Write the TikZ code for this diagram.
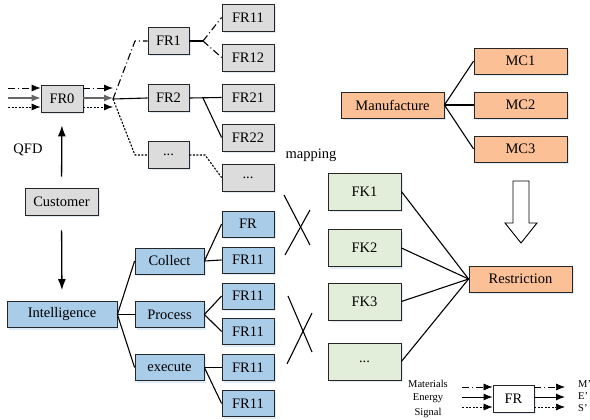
\documentclass[tikz,border=0pt]{standalone}
\usepackage{fontspec}
\setmainfont{Liberation Serif}
\usetikzlibrary{arrows.meta,shadows}
\definecolor{gfill}{HTML}{DCDCDC}
\definecolor{bfill}{HTML}{A9CCE8}
\definecolor{ofill}{HTML}{FBC096}
\definecolor{kfill}{HTML}{E3EEDA}
\definecolor{shcol}{HTML}{C9DDF0}
\begin{document}
\begin{tikzpicture}[x=1pt,y=-1pt,
  font=\fontsize{14.5}{16}\selectfont,
  box/.style={draw=black!85, line width=0.8pt, inner sep=0pt, minimum height=27pt,
    drop shadow={shadow xshift=1.5pt, shadow yshift=-2pt, fill=shcol, opacity=0.6}},
  gbox/.style={box, fill=gfill},
  bbox/.style={box, fill=bfill, minimum height=26pt},
  obox/.style={box, fill=ofill, minimum height=26pt},
  kbox/.style={box, fill=kfill, minimum height=37pt, minimum width=73pt},
  conn/.style={line width=1.1pt, black},
  dashdotline/.style={line width=1.1pt, dash pattern=on 7pt off 3pt on 1pt off 3pt},
  dotline/.style={line width=1.1pt, dash pattern=on 2pt off 1.5pt},
  tip/.style={-{Latex[length=9pt,width=7pt]}},
  bigtip/.style={-{Latex[length=11pt,width=8pt]}},
  small/.style={font=\fontsize{10.5}{12}\selectfont},
]
\useasboundingbox (0,0) rectangle (590,420);

% grey tree
\node[gbox, minimum width=42pt] (fr0) at (62,98.5) {FR0};
\node[gbox, minimum width=41pt] (fr1) at (168.5,41) {FR1};
\node[gbox, minimum width=41pt] (fr2) at (168.5,98) {FR2};
\node[gbox, minimum width=41pt] (frd) at (168.5,155) {...};
\node[gbox, minimum width=52pt] (fr11) at (248,17.5) {FR11};
\node[gbox, minimum width=52pt] (fr12) at (248,57.5) {FR12};
\node[gbox, minimum width=52pt] (fr21) at (248,97.5) {FR21};
\node[gbox, minimum width=52pt] (fr22) at (248,137.5) {FR22};
\node[gbox, minimum width=52pt] (frdd) at (248,177.5) {...};
\node[gbox, minimum width=73pt] (cust) at (61.5,201.5) {Customer};
\node (qfd) at (28,150) {QFD};
\node (map) at (311,155) {mapping};

% blue tree
\node[bbox, minimum width=110pt] (intel) at (62,314.5) {Intelligence};
\node[bbox, minimum width=69pt] (coll) at (169.5,261) {Collect};
\node[bbox, minimum width=69pt] (proc) at (169.5,314.5) {Process};
\node[bbox, minimum width=69pt] (exec) at (169.5,367.5) {execute};
\node[bbox, minimum width=52pt] (b1) at (248,224) {FR};
\node[bbox, minimum width=52pt] (b2) at (248,260) {FR11};
\node[bbox, minimum width=52pt] (b3) at (248,296) {FR11};
\node[bbox, minimum width=52pt] (b4) at (248,331.5) {FR11};
\node[bbox, minimum width=52pt] (b5) at (248,367.5) {FR11};
\node[bbox, minimum width=52pt] (b6) at (248,403.5) {FR11};

% orange
\node[obox, minimum width=103pt] (manu) at (392.5,105) {Manufacture};
\node[obox, minimum width=93pt] (mc1) at (520.5,61) {MC1};
\node[obox, minimum width=93pt] (mc2) at (520.5,105) {MC2};
\node[obox, minimum width=93pt] (mc3) at (520.5,149) {MC3};
\node[obox, minimum width=103pt] (restr) at (520.5,279) {Restriction};

% green
\node[kbox] (fk1) at (364.5,191.5) {FK1};
\node[kbox] (fk2) at (364.5,248) {FK2};
\node[kbox] (fk3) at (364.5,301.5) {FK3};
\node[kbox] (fk4) at (364.5,361.5) {...};

% legend
\node[box, fill=white, minimum width=41pt] (lfr) at (513.5,398.5) {FR};
\node[small] (lm) at (428,384) {Materials};
\node[small] (le) at (428,398.5) {Energy};
\node[small] (ls) at (428,413) {Signal};
\node[small, anchor=west, inner sep=0pt] (om) at (578,384) {M'};
\node[small, anchor=west, inner sep=0pt] (oe) at (578,396) {E'};
\node[small, anchor=west, inner sep=0pt] (os) at (578,408) {S'};

% FR0 input / output arrows
\coordinate (in1) at (8,88);
\coordinate (in2) at (8,98);
\coordinate (in3) at (8,107);
\coordinate (ot1) at (113,88);
\coordinate (ot2) at (113,98);
\coordinate (ot3) at (113,107);
\draw[tip, dashdotline, line width=0.8pt] (in1) -- (in1 -| fr0.west);
\draw[tip, line width=1.1pt, black!60] (in2) -- (in2 -| fr0.west);
\draw[tip, dotline, line width=0.8pt] (in3) -- (in3 -| fr0.west);
\draw[tip, dashdotline, line width=0.8pt] (ot1 -| fr0.east) -- (ot1);
\draw[tip, line width=1.1pt, black!60] (ot2 -| fr0.east) -- (ot2);
\draw[tip, dotline, line width=0.8pt] (ot3 -| fr0.east) -- (ot3);

% fork from FR0
\coordinate (f0) at (113,99);
\coordinate (f1) at (135,41);
\coordinate (f3) at (135,155);
\draw[conn] (f0) -- (fr2.west);
\draw[dashdotline] (f0) -- (f1) -- (fr1.west);
\draw[dotline] (f0) -- (f3) -- (frd.west);

\coordinate (g1) at (203,41);
\draw[conn] (fr1.east) -- (g1);
\draw[dashdotline] (g1) -- (fr11.west);
\draw[dashdotline] (g1) -- (fr12.west);
\coordinate (g2) at (203,98);
\draw[conn] (fr2.east) -- (fr21.west);
\draw[conn] (g2) -- (fr22.west);
\coordinate (g3) at (205,155);
\draw[dotline] (frd.east) -- (g3) -- (frdd.west);

% vertical arrows
\draw[bigtip, line width=1.3pt, shorten <=11pt, shorten >=13pt] (cust.north) -- (fr0.south);
\draw[bigtip, line width=1.3pt, shorten <=15pt, shorten >=11pt] (cust.south) -- (intel.north);

% blue tree connectors
\draw[conn] (intel.east) -- (coll.west);
\draw[conn] (intel.east) -- (proc.west);
\draw[conn] (intel.east) -- (exec.west);
\draw[conn] (coll.east) -- (b1.west);
\draw[conn] (coll.east) -- (b2.west);
\draw[conn] (proc.east) -- (b3.west);
\draw[conn] (proc.east) -- (b4.west);
\draw[conn] (exec.east) -- (b5.west);
\draw[conn] (exec.east) -- (b6.west);

% orange connectors
\draw[conn] (manu.east) -- (mc1.west);
\draw[conn] (manu.east) -- (mc2.west);
\draw[conn] (manu.east) -- (mc3.west);

% FK to restriction
\draw[conn] (fk1.east) -- (restr.west);
\draw[conn] (fk2.east) -- (restr.west);
\draw[conn] (fk3.east) -- (restr.west);
\draw[conn] (fk4.east) -- (restr.west);

% crosses
\draw[conn] (284,195) -- (310,245);
\draw[conn] (285,255) -- (310,210);
\draw[conn] (288,296) -- (312,352);
\draw[conn] (287,364) -- (312,313);

% hollow arrow
\draw[line width=0.9pt, fill=white] (513,181) -- (529,181) -- (529,223) -- (537,223) -- (521,243) -- (505,223) -- (513,223) -- cycle;

% legend arrows
\coordinate (li1) at (462,387);
\coordinate (li2) at (462,397);
\coordinate (li3) at (462,407);
\coordinate (lo1) at (565,387);
\coordinate (lo2) at (565,397);
\coordinate (lo3) at (565,407);
\draw[tip, dashdotline, line width=0.7pt] (li1) -- (li1 -| lfr.west);
\draw[tip, line width=1pt] (li2) -- (li2 -| lfr.west);
\draw[tip, dotline, line width=0.7pt] (li3) -- (li3 -| lfr.west);
\draw[tip, dashdotline, line width=0.7pt] (lo1 -| lfr.east) -- (lo1);
\draw[tip, line width=1pt] (lo2 -| lfr.east) -- (lo2);
\draw[tip, dotline, line width=0.7pt] (lo3 -| lfr.east) -- (lo3);
\end{tikzpicture}
\end{document}
